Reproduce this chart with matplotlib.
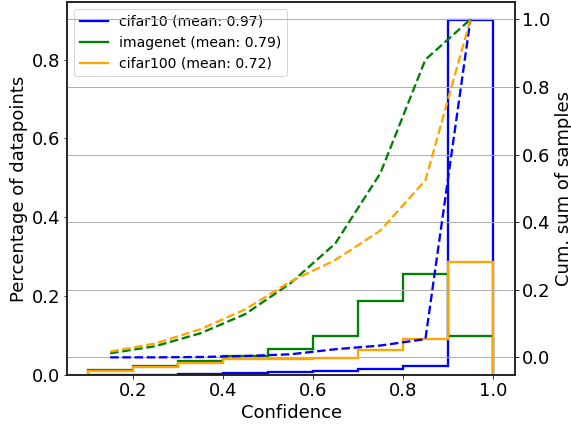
import matplotlib
matplotlib.use("Agg")
import matplotlib.pyplot as plt
from matplotlib.lines import Line2D
import numpy as np

bin_edges = [0.1, 0.2, 0.3, 0.4, 0.5, 0.6, 0.7, 0.8, 0.9, 1.0]
bin_centers = [0.15, 0.25, 0.35, 0.45, 0.55, 0.65, 0.75, 0.85, 0.95]

names = ["cifar10", "imagenet", "cifar100"]
means = [0.97, 0.79, 0.72]
colors = ["blue", "green", "orange"]

hist_cifar10 = [0.001, 0.001, 0.002, 0.004, 0.0076, 0.011, 0.0144, 0.0236, 0.901]
hist_imagenet = [0.013, 0.0236, 0.0355, 0.049, 0.066, 0.099, 0.187, 0.256, 0.098]
hist_cifar100 = [0.011, 0.0195, 0.031, 0.041, 0.041, 0.042, 0.062, 0.090, 0.286]

cum_cifar10 = [0.0, 0.0, 0.001, 0.004, 0.009, 0.024, 0.035, 0.054, 1.0]
cum_imagenet = [0.012, 0.033, 0.071, 0.128, 0.219, 0.337, 0.545, 0.881, 1.0]
cum_cifar100 = [0.017, 0.041, 0.083, 0.142, 0.224, 0.288, 0.375, 0.524, 1.0]

hists = [hist_cifar10, hist_imagenet, hist_cifar100]
cums = [cum_cifar10, cum_imagenet, cum_cifar100]

plt.rcParams['font.size'] = 18

DPI = 72
fig = plt.figure(figsize=(571 / DPI, 428 / DPI), dpi=DPI)
ax = fig.add_axes([0.118, 0.124, 0.784, 0.871])
ax2 = ax.twinx()

LW = 2.3
handles = []
for h, c, n, m in zip(hists, colors, names, means):
    ax.stairs(h, bin_edges, baseline=0, color=c, lw=LW)
    handles.append(Line2D([], [], color=c, lw=LW, label=f"{n} (mean: {m:.2f})"))

for cu, c in zip(cums, colors):
    ax2.plot(bin_centers, cu, color=c, lw=LW, ls="--")

ax.set_xlim(0.055, 1.049)
ax.set_ylim(0, 0.946)
ax2.set_ylim(-0.052, 1.051)
ax.set_xticks([0.2, 0.4, 0.6, 0.8, 1.0])
ax.set_yticks([0.0, 0.2, 0.4, 0.6, 0.8])
ax2.set_yticks([0.0, 0.2, 0.4, 0.6, 0.8, 1.0])
ax2.yaxis.grid(True, color="#b0b0b0", lw=1)

for a in (ax, ax2):
    for s in a.spines.values():
        s.set_linewidth(1.6)
        s.set_color("#222222")

ax.set_xlabel("Confidence")
ax.set_ylabel("Percentage of datapoints")
ax2.set_ylabel("Cum. sum of samples")

ax.legend(handles=handles, loc="upper left", fontsize=14)

fig.savefig("out.png", dpi=DPI)
